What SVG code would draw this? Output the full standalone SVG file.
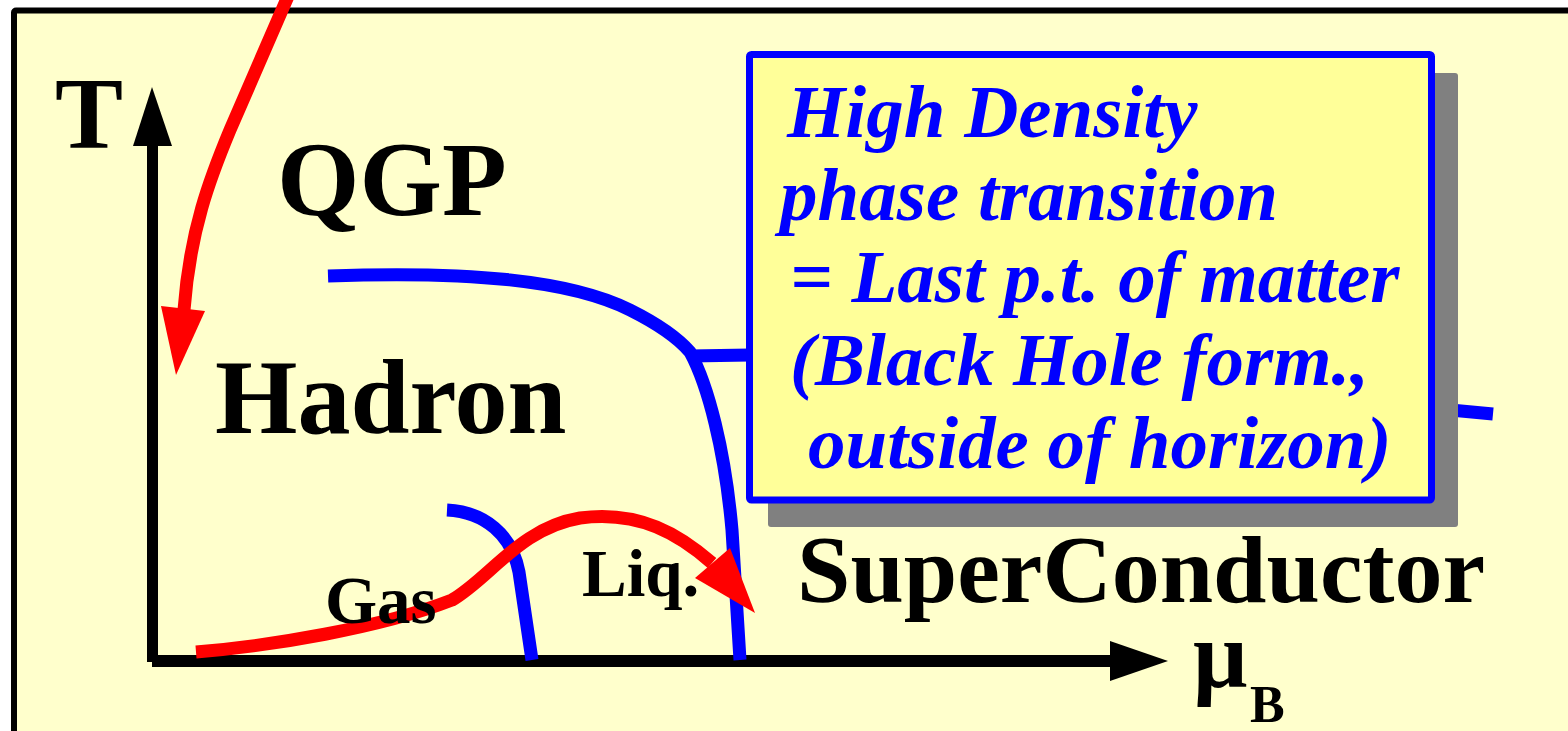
<svg xmlns="http://www.w3.org/2000/svg" width="1568" height="731" viewBox="0 0 1568 731">
<style>
.lbl{font-family:"Liberation Serif","Times New Roman",serif;font-weight:bold;fill:#000}
.box{font-family:"Liberation Serif","Times New Roman",serif;font-weight:bold;font-style:italic;fill:#0000FF;font-size:75px}
.blue{fill:none;stroke:#0000FF;stroke-width:13}
.red{fill:none;stroke:#FF0000;stroke-width:13}
.axis{stroke:#000;fill:none}
</style>
<rect x="0" y="0" width="1568" height="731" fill="#FFFFFF"/>
<rect id="frame" x="14" y="10.5" width="1600" height="800" fill="#FFFFCC" stroke="#000" stroke-width="6" rx="2"/>

<g id="connectors">
  <!-- axes -->
  <line class="axis" x1="152.5" y1="140" x2="152.5" y2="662" stroke-width="11"/>
  <polygon points="152,87 133,146 172,146" fill="#000"/>
  <line class="axis" x1="152" y1="661" x2="1115" y2="661" stroke-width="12"/>
  <polygon points="1168,661 1110,641 1110,681" fill="#000"/>
  <!-- phase boundaries -->
  <path class="blue" d="M328,276 C470,271 570,280 630,310 C660,325 678,338 690,352 C708,385 725,450 732,530 L740,660"/>
  <line class="blue" x1="690" y1="356" x2="750" y2="355"/>
  <path class="blue" d="M447,510 C485,512 512,535 519,572 L532,660"/>
  <line class="blue" x1="1440" y1="409" x2="1493" y2="414"/>
  <!-- red trajectories -->
  <path class="red" d="M289,-6 L230,130 C210,178 190,230 184,310"/>
  <polygon points="161,306 205,311 176,375" fill="#FF0000"/>
  <path class="red" d="M196,652 C270,646 380,628 452,600 C490,578 520,528 580,518 C640,510 680,535 712,563"/>
  <polygon points="695,578 730,548 755,613" fill="#FF0000"/>
</g>

<g id="note">
  <rect x="768" y="73" width="690" height="454" rx="3" fill="#808080"/>
  <rect x="749.5" y="54.5" width="682" height="445.5" rx="2" fill="#FFFF99" stroke="#0000FF" stroke-width="7"/>
  <text class="box" x="787" y="137">High Density</text>
  <text class="box" x="780" y="220">phase transition</text>
  <text class="box" x="790" y="302">= Last p.t. of matter</text>
  <text class="box" x="790" y="385">(Black Hole form.,</text>
  <text class="box" x="808" y="468">outside of horizon)</text>
</g>

<g id="axis-T"><text class="lbl" x="55" y="148" font-size="102">T</text></g>
<g id="axis-muB"><text class="lbl" x="1193" y="687" font-size="96">μ</text><text class="lbl" x="1250" y="722" font-size="52">B</text></g>
<g id="QGP"><text class="lbl" x="277" y="215" font-size="106">QGP</text></g>
<g id="Hadron"><text class="lbl" x="215" y="433" font-size="106">Hadron</text></g>
<g id="Gas"><text class="lbl" x="325" y="623" font-size="67">Gas</text></g>
<g id="Liq"><text class="lbl" x="582" y="596" font-size="67">Liq.</text></g>
<g id="SuperConductor"><text class="lbl" x="797" y="602" font-size="96">SuperConductor</text></g>
</svg>
